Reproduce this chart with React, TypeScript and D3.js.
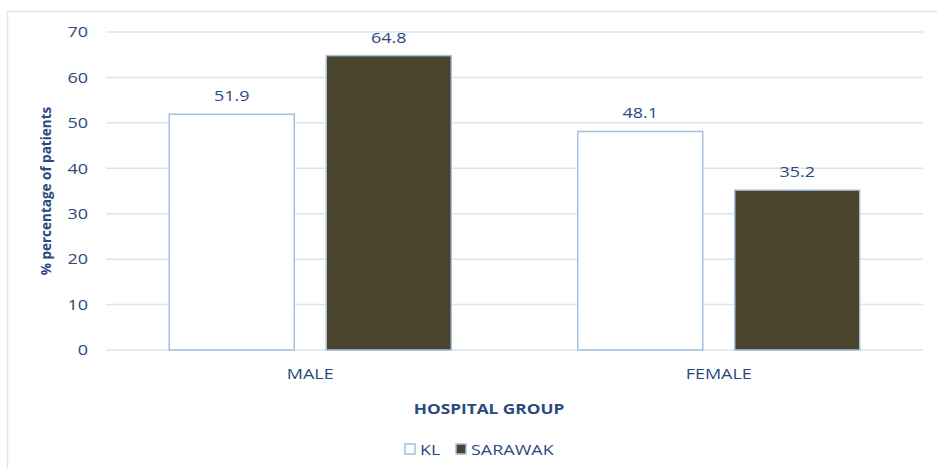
import React from "react";
import * as d3 from "d3";

const categories = ["MALE", "FEMALE"];
const seriesNames = ["KL", "SARAWAK"];
const klValues = [51.9, 48.1];
const sarawakValues = [64.8, 35.2];
const yTicks = [0, 10, 20, 30, 40, 50, 60, 70];

const W = 937;
const H = 468;
const margin = { left: 106, right: 14, top: 32, bottom: 118 };
const textColor = "#2B4A7C";
const gridColor = "#D9E4F3";
const barStroke = "#A7BFDF";
const fills = ["#FFFFFF", "#4A442D"];
const font = "'Open Sans', 'Noto Sans', sans-serif";
const stretch = 1.2;

// Horizontally widened text, anchored at (x, y)
function WideText(props: {
  x: number;
  y: number;
  anchor?: "start" | "middle" | "end";
  size?: number;
  bold?: boolean;
  sx?: number;
  dy?: string;
  children: React.ReactNode;
}) {
  const { x, y, anchor = "start", size = 15, bold = false, sx = stretch, dy } = props;
  return (
    <text
      transform={`translate(${x},${y}) scale(${sx},1)`}
      textAnchor={anchor}
      dy={dy}
      fontSize={size}
      fontWeight={bold ? "bold" : "normal"}
      fill={textColor}
    >
      {props.children}
    </text>
  );
}

export default function App() {
  const x0 = d3
    .scaleBand<string>()
    .domain(categories)
    .range([margin.left, W - margin.right])
    .paddingInner(0)
    .paddingOuter(0);
  const y = d3.scaleLinear().domain([0, 70]).range([H - margin.bottom, margin.top]);

  const barW = 125;
  const gap = 32;
  const series = [klValues, sarawakValues];

  return (
    <svg
      width={W}
      height={H}
      style={{ position: "absolute", left: 0, top: 0, fontFamily: font }}
    >
      <rect x={0} y={0} width={W} height={H} fill="#fff" />
      <rect x={7.5} y={11.5} width={W} height={H} fill="none" stroke="#DCE6F2" strokeWidth={1.5} />
      {yTicks.map((t) => (
        <g key={t}>
          <line
            x1={margin.left}
            x2={W - margin.right}
            y1={y(t)}
            y2={y(t)}
            stroke={gridColor}
            strokeWidth={1.5}
          />
          <WideText x={88} y={y(t)} anchor="end" dy="0.35em">
            {t}
          </WideText>
        </g>
      ))}
      {categories.map((c, ci) => {
        const cx = (x0(c) ?? 0) + x0.bandwidth() / 2;
        return (
          <g key={c}>
            {series.map((vals, si) => {
              const bx = si === 0 ? cx - gap / 2 - barW : cx + gap / 2;
              const v = vals[ci];
              return (
                <g key={si}>
                  <rect
                    x={bx}
                    y={y(v)}
                    width={barW}
                    height={y(0) - y(v)}
                    fill={fills[si]}
                    stroke={barStroke}
                    strokeWidth={1.5}
                  />
                  <WideText x={bx + barW / 2} y={y(v) - 13} anchor="middle">
                    {v.toFixed(1)}
                  </WideText>
                </g>
              );
            })}
            <WideText x={cx} y={379} anchor="middle">
              {c}
            </WideText>
          </g>
        );
      })}
      <text
        transform={`translate(51, ${(y(0) + y(70)) / 2}) rotate(-90)`}
        textAnchor="middle"
        fontSize={13.5}
        fontWeight="bold"
        fill={textColor}
      >
        % percentage of patients
      </text>
      <WideText x={489} y={414} anchor="middle" bold sx={1.15}>
        HOSPITAL GROUP
      </WideText>
      {seriesNames.map((s, i) => {
        const lx = i === 0 ? 405 : 456;
        return (
          <g key={s}>
            <rect x={lx} y={444} width={10} height={10} fill={fills[i]} stroke={barStroke} strokeWidth={1.5} />
            <WideText x={lx + 15} y={455}>
              {s}
            </WideText>
          </g>
        );
      })}
    </svg>
  );
}
